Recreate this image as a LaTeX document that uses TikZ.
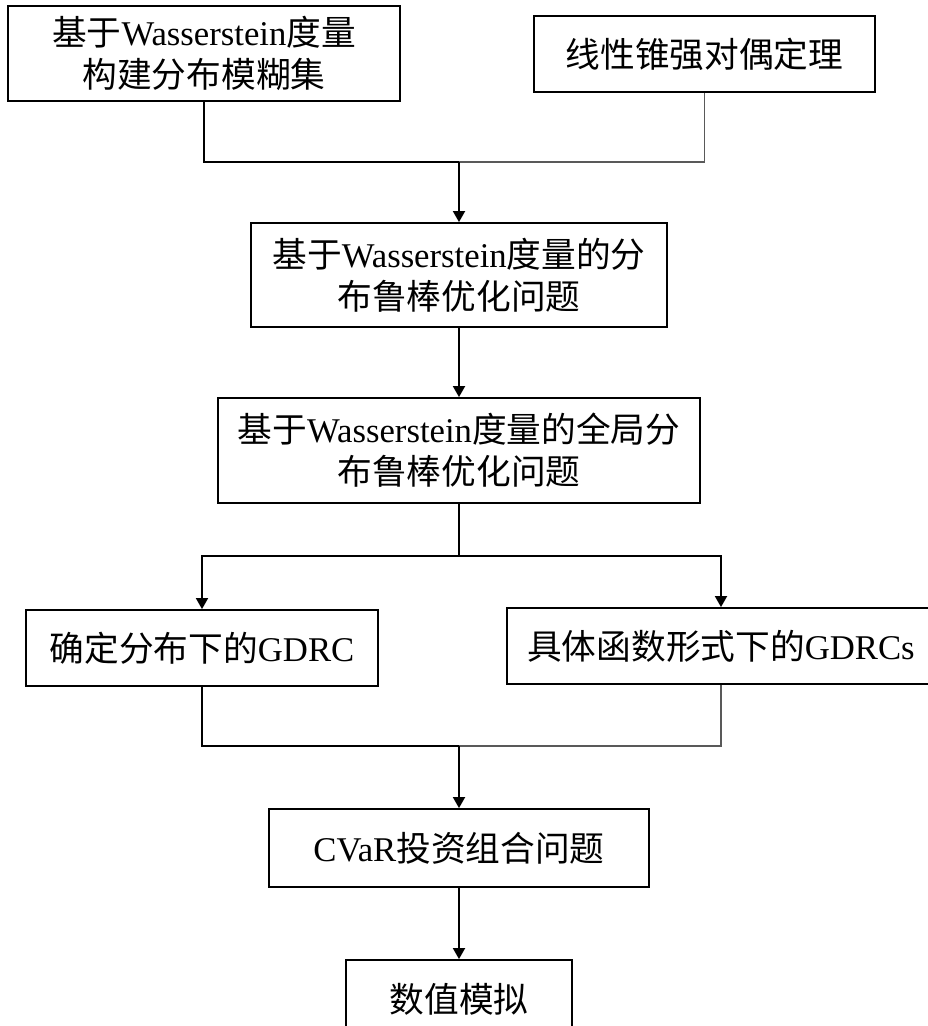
\documentclass[tikz,border=0pt]{standalone}
\usepackage{fontspec}
\setmainfont{Liberation Serif}
\newfontfamily\cjk{Noto Sans CJK SC}
\newcommand{\zh}[1]{{\cjk #1}}
\usetikzlibrary{arrows.meta}
\begin{document}
\begin{tikzpicture}[x=1pt,y=-1pt,
  box/.style={draw=black,line width=1.8pt,fill=white,inner sep=0pt,align=center,
    font=\fontsize{34.7pt}{42pt}\selectfont},
  ln/.style={draw=black,line width=1.8pt},
  thinln/.style={draw=black!65,line width=1.1pt},
  arr/.style={ln,-{Triangle[length=11pt,width=12pt]}}]
\useasboundingbox (0,0) rectangle (928,1026);
\clip (0,0) rectangle (928,1026);
\fill[white] (0,0) rectangle (928,1026);
% boxes
\node[box,minimum width=392pt,minimum height=95pt] (b1) at (204,53.5)
  {\zh{基于}Wasserstein\zh{度量}\\\zh{构建分布模糊集}};
\node[box,minimum width=341pt,minimum height=76pt] (b2) at (704.5,54)
  {\zh{线性锥强对偶定理}};
\node[box,minimum width=416pt,minimum height=104pt] (b3) at (459,275)
  {\zh{基于}Wasserstein\zh{度量的分}\\\zh{布鲁棒优化问题}};
\node[box,minimum width=482pt,minimum height=105pt] (b4) at (459,450.5)
  {\zh{基于}Wasserstein\zh{度量的全局分}\\\zh{布鲁棒优化问题}};
\node[box,minimum width=352pt,minimum height=76pt] (b5) at (202,648)
  {\zh{确定分布下的}GDRC};
\node[box,minimum width=428pt,minimum height=76pt] (b6) at (721,646)
  {\zh{具体函数形式下的}GDRCs};
\node[box,minimum width=380pt,minimum height=78pt] (b7) at (459,848)
  {CVaR\zh{投资组合问题}};
\node[box,minimum width=226pt,minimum height=78pt] (b8) at (459,999)
  {\zh{数值模拟}};
% junctions
\coordinate (j1) at (459,162);
\coordinate (j2) at (459,556);
\coordinate (j3) at (459,746);
% connectors
\draw[thinln] (b2.south) |- (j1);
\draw[ln] (b1.south) |- (j1);
\draw[arr] (j1) -- (b3.north);
\draw[arr] (b3.south) -- (b4.north);
\draw[ln] (b4.south) -- (j2);
\draw[arr] (j2) -| (b5.north);
\draw[arr] (j2) -| (b6.north);
\draw[thinln] (b6.south) |- (j3);
\draw[ln] (b5.south) |- (j3);
\draw[arr] (j3) -- (b7.north);
\draw[arr] (b7.south) -- (b8.north);
\end{tikzpicture}
\end{document}
